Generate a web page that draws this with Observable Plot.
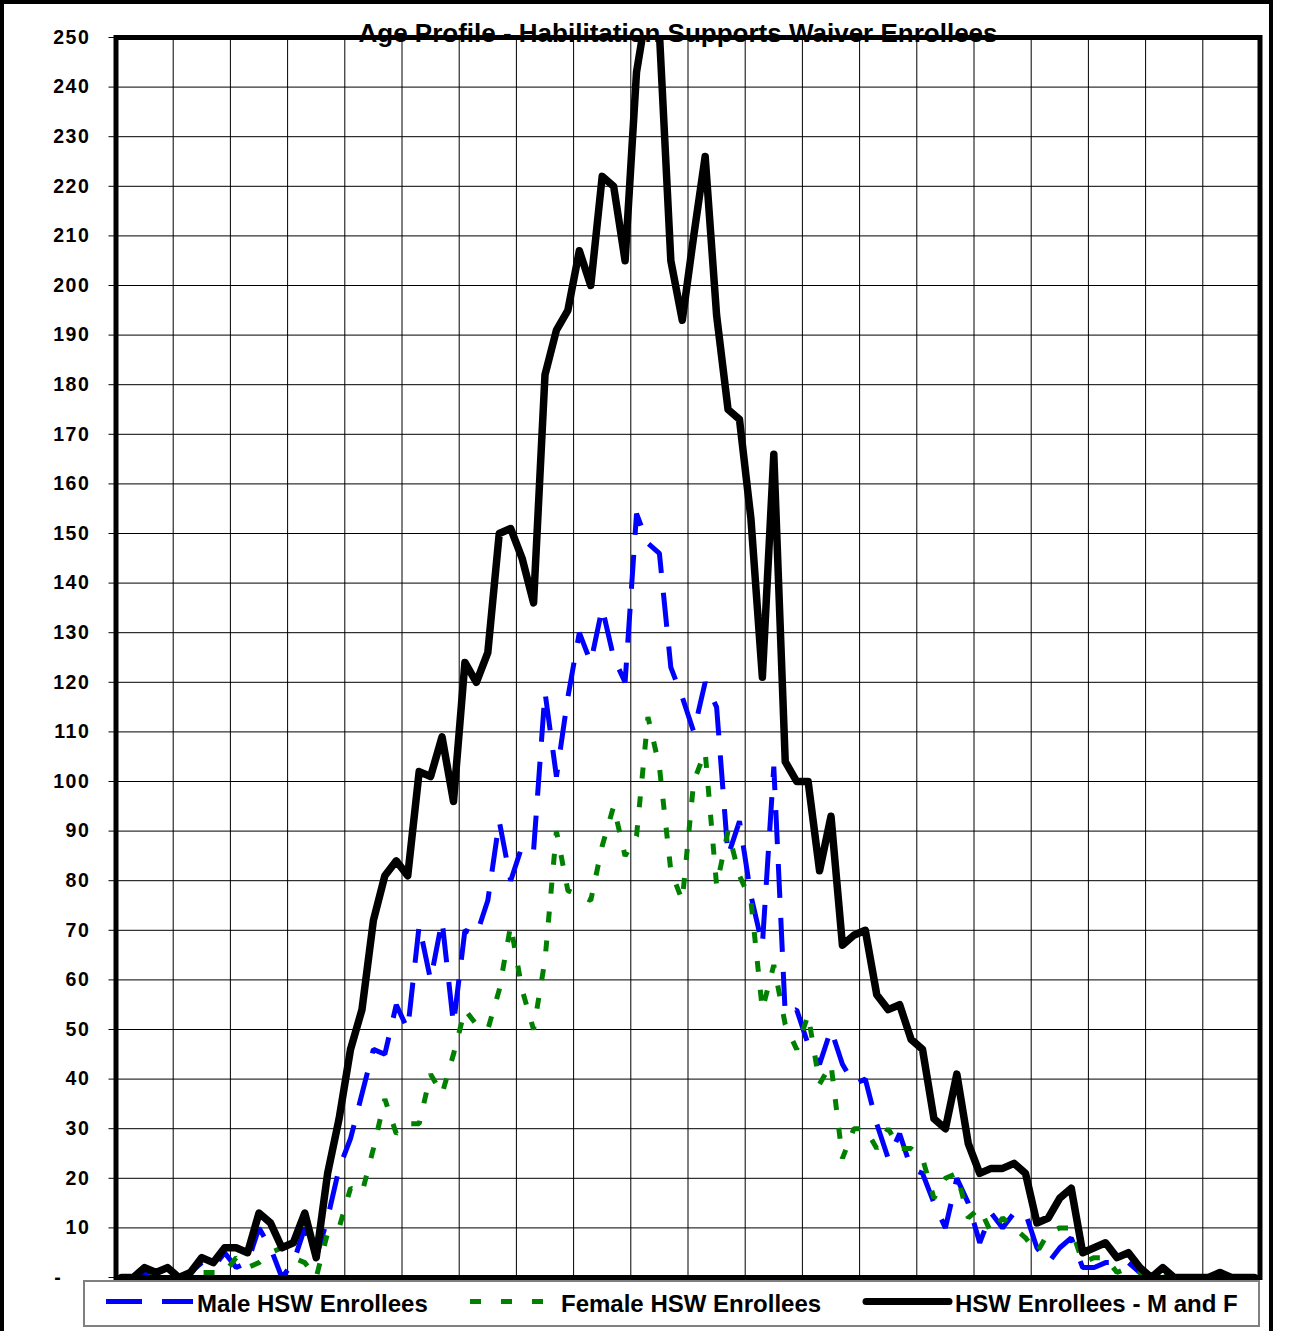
<!DOCTYPE html>
<html><head><meta charset="utf-8">
<script src="https://cdn.jsdelivr.net/npm/d3@7"></script>
<script src="https://cdn.jsdelivr.net/npm/@observablehq/plot@0.6"></script>
<style>
html,body{margin:0;padding:0;background:#fff;}
#wrap{position:relative;width:1290px;height:1331px;overflow:hidden;font-family:'Liberation Sans',Arial,sans-serif;}
#wrap > svg{position:absolute;left:0;top:0;}
#border{position:absolute;left:0;top:0;width:1273px;height:1400px;border:4px solid #000;box-sizing:border-box;pointer-events:none;}
g[aria-label="y-axis tick label"]{letter-spacing:1.6px;}
</style></head><body><div id="wrap"></div>
<script>
// Categories (ages) and series values
const ages = d3.range(0, 100);
const total = [0,0,2,1,2,0,1,4,3,6, 6,5,13,11,6,7,13,4,21,32, 46,54,72,81,84,81,102,101,109,96,
  124,120,126,150,151,145,136,182,191,195, 207,200,222,220,205,243,257,251,205,193,
  210,226,194,175,173,153,121,166,104,100, 100,82,93,67,69,70,57,54,55,48,
  46,32,30,41,27,21,22,22,23,21, 11,12,16,18,5,6,7,4,5,2, 0,2,0,0,0,0,1,0,0,0];
const male = [0,0,1,1,1,0,1,3,2,5, 2,3,10,6,0,3,10,4,12,22, 28,37,46,45,55,50,71,60,72,51,
  70,69,76,92,80,87,86,118,101,117, 130,124,135,125,120,154,148,146,123,117,
  110,120,115,85,92,77,67,103,53,54, 47,43,50,43,39,40,31,24,29,22,
  21,15,10,20,15,7,13,10,13,13, 6,3,6,8,2,2,3,3,3,1, 0,1,0,0,0,0,0,0,0,0];
const female = [0,0,1,0,1,0,0,1,1,1, 4,2,3,5,6,4,3,0,9,10, 18,17,26,36,29,31,31,41,37,45,
  54,51,50,58,71,58,50,64,90,78, 77,76,87,95,85,89,113,103,82,76,
  100,106,79,90,81,76,54,63,51,46, 53,39,43,24,30,30,26,30,26,26,
  24,16,20,21,12,14,9,12,10,8, 5,9,10,10,3,4,4,1,2,1, 0,1,0,0,0,0,1,0,0,0];
const yTicks = [0,10,20,30,40,50,60,70,80,90,100,110,120,130,140,150,160,170,180,190,200,210,220,230,240,250];
const seriesNames = ["Male HSW Enrollees", "Female HSW Enrollees", "HSW Enrollees - M and F"];
const chartTitle = "Age Profile - Habilitation Supports Waiver Enrollees";

const rows = arr => arr.map((v, i) => ({age: ages[i], value: v}));
const xGrid = d3.range(-0.5, 100, 5);

const chart = Plot.plot({
  width: 1290, height: 1331,
  marginTop: 37, marginLeft: 115.5, marginRight: 30.5, marginBottom: 54,
  style: {fontFamily: "'Liberation Sans', Arial, sans-serif", background: "#fff", color: "#000"},
  x: {type: "linear", domain: [-0.5, 99.5], axis: null, label: null},
  y: {type: "linear", domain: [0, 250], axis: null, label: null},
  marks: [
    Plot.ruleX(xGrid, {stroke: "#000", strokeWidth: 1}),
    Plot.ruleY(yTicks, {stroke: "#000", strokeWidth: 1}),
    Plot.axisY(yTicks, {anchor: "left", label: null, tickSize: 7, tickPadding: 18.5,
      tickFormat: d => d === 0 ? "-\u00a0\u00a0\u00a0\u00a0" : String(d),
      fontSize: 19.5, fontWeight: "bold", stroke: "#000", fill: "#000"}),
    Plot.line(rows(male), {x: "age", y: "value", stroke: "#0000ff", strokeWidth: 5,
      strokeDasharray: "34,20", strokeLinecap: "butt", strokeLinejoin: "miter"}),
    Plot.line(rows(female), {x: "age", y: "value", stroke: "#008000", strokeWidth: 5,
      strokeDasharray: "11,18", strokeLinecap: "butt", strokeLinejoin: "miter"}),
    Plot.line(rows(total), {x: "age", y: "value", stroke: "#000", strokeWidth: 7.5,
      strokeLinejoin: "round", strokeLinecap: "round", clip: true}),
    Plot.frame({stroke: "#000", strokeWidth: 5})
  ]
});
const wrap = document.getElementById("wrap");
wrap.appendChild(chart);

// Title and legend overlay
const ov = d3.select(wrap).append("svg").attr("width", 1290).attr("height", 1331)
  .style("font-family", "'Liberation Sans', Arial, sans-serif");
ov.append("text").attr("x", 678).attr("y", 42).attr("text-anchor", "middle")
  .attr("font-size", 26).attr("font-weight", "bold").attr("fill", "#000").text(chartTitle);

ov.append("rect").attr("x", 84).attr("y", 1281).attr("width", 1175).attr("height", 45)
  .attr("fill", "#fff").attr("stroke", "#808080").attr("stroke-width", 2);

const legendItems = [
  {name: seriesNames[0], x1: 106, x2: 193, tx: 197, color: "#0000ff", w: 5, dash: "36,20", cap: "butt"},
  {name: seriesNames[1], x1: 470, x2: 545, tx: 561, color: "#008000", w: 5, dash: "11,20", cap: "butt"},
  {name: seriesNames[2], x1: 866, x2: 949, tx: 955, color: "#000", w: 7, dash: null, cap: "round"}
];
for (const it of legendItems) {
  const ln = ov.append("line").attr("x1", it.x1).attr("x2", it.x2).attr("y1", 1301.5).attr("y2", 1301.5)
    .attr("stroke", it.color).attr("stroke-width", it.w).attr("stroke-linecap", it.cap);
  if (it.dash) ln.attr("stroke-dasharray", it.dash);
  ov.append("text").attr("x", it.tx).attr("y", 1312).attr("font-size", 24).attr("font-weight", "bold")
    .attr("fill", "#000").text(it.name);
}
const b = document.createElement("div"); b.id = "border"; wrap.appendChild(b);
</script></body></html>
